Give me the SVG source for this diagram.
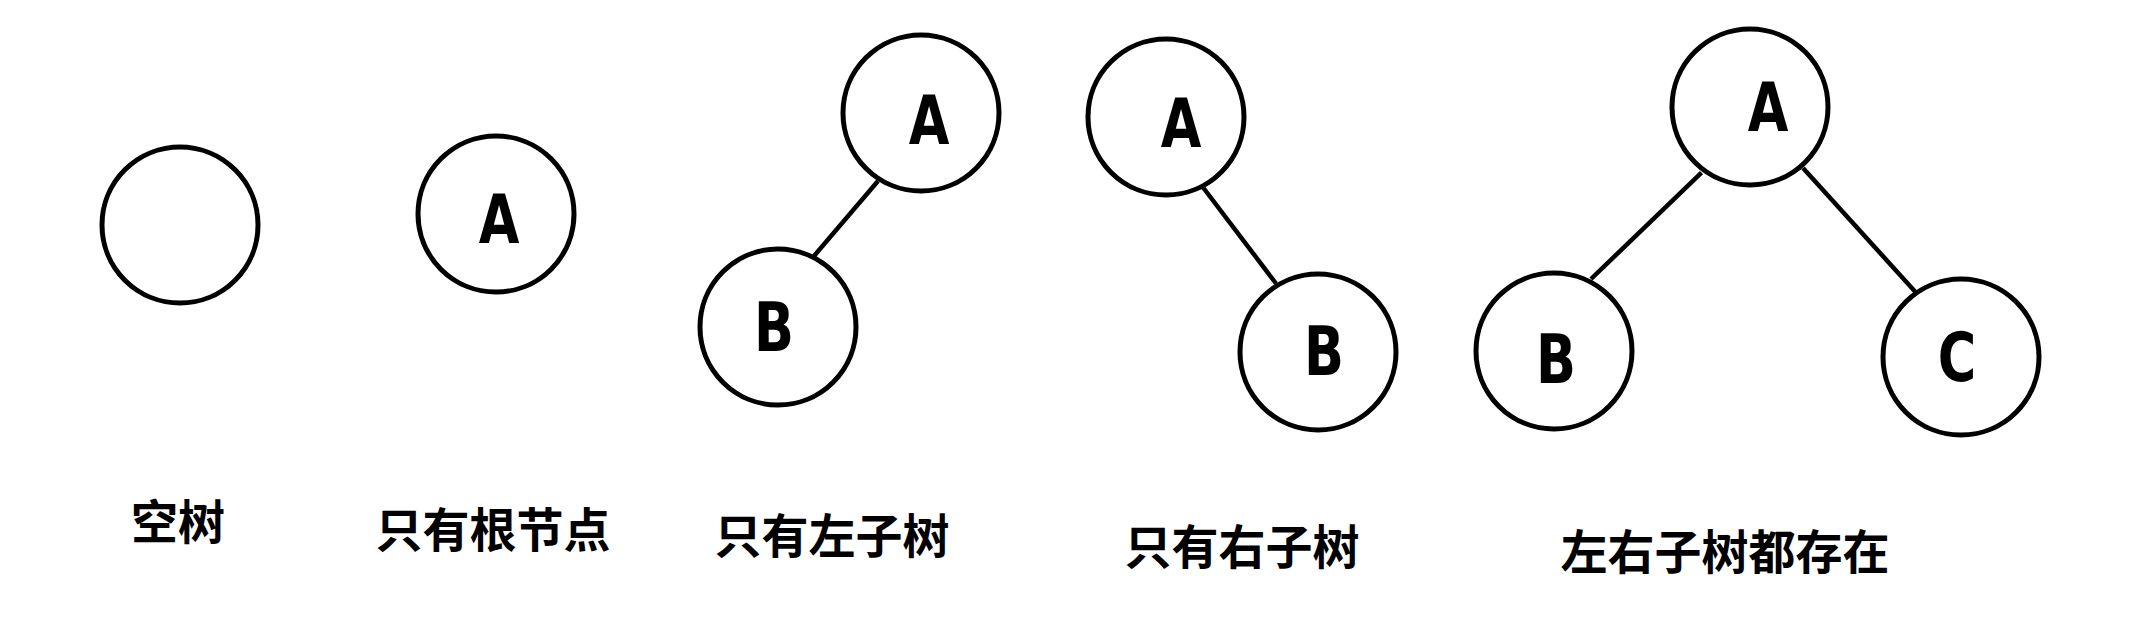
<svg xmlns="http://www.w3.org/2000/svg" width="2132" height="621" viewBox="0 0 2132 621">
<style>
.n{fill:#fff;stroke:#000;stroke-width:5}
.e{stroke:#000;stroke-width:4.5;fill:none}
.t{font-family:"DejaVu Sans Condensed","DejaVu Sans",sans-serif;font-weight:bold;font-size:67px;text-anchor:middle;fill:#000}
.l{font-family:"Noto Sans CJK SC","Noto Sans",sans-serif;font-weight:bold;font-size:47px;text-anchor:middle;fill:#000}
</style>
<rect width="2132" height="621" fill="#fff"/>
<g id="connectors">
<line class="e" x1="878" y1="181" x2="814" y2="256"/>
<line class="e" x1="1203.5" y1="188" x2="1276" y2="283.5"/>
<line class="e" x1="1701.5" y1="172.7" x2="1591" y2="279"/>
<line class="e" x1="1803" y1="168" x2="1915" y2="291.5"/>
</g>
<g id="empty"><circle class="n" cx="180" cy="225" r="78"/></g>
<g id="root-A"><circle class="n" cx="496" cy="214" r="78"/><text class="t" transform="translate(499,243) scale(0.87,1)">A</text></g>
<g id="left-A"><circle class="n" cx="921" cy="113" r="78"/><text class="t" transform="translate(929,144) scale(0.87,1)">A</text></g>
<g id="left-B"><circle class="n" cx="778" cy="327" r="78"/><text class="t" transform="translate(774,351) scale(0.87,1)">B</text></g>
<g id="right-A"><circle class="n" cx="1166" cy="117" r="78"/><text class="t" transform="translate(1181,147) scale(0.87,1)">A</text></g>
<g id="right-B"><circle class="n" cx="1318" cy="352" r="78"/><text class="t" transform="translate(1324,375) scale(0.87,1)">B</text></g>
<g id="full-A"><circle class="n" cx="1750" cy="107" r="78"/><text class="t" transform="translate(1768,131) scale(0.87,1)">A</text></g>
<g id="full-B"><circle class="n" cx="1554" cy="351" r="78"/><text class="t" transform="translate(1556,383) scale(0.87,1)">B</text></g>
<g id="full-C"><circle class="n" cx="1961" cy="357" r="78"/><text class="t" transform="translate(1957,381) scale(0.87,1)">C</text></g>
<g id="labels">
<text class="l" x="178" y="539">空树</text>
<text class="l" x="493" y="547">只有根节点</text>
<text class="l" x="832" y="553">只有左子树</text>
<text class="l" x="1242" y="564">只有右子树</text>
<text class="l" x="1725" y="569">左右子树都存在</text>
</g>
</svg>
